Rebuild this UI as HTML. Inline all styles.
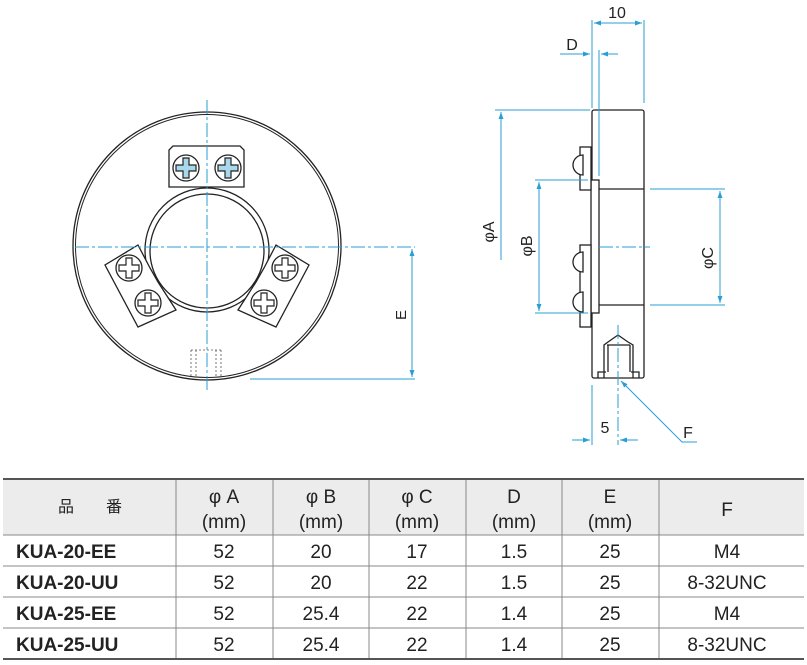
<!DOCTYPE html>
<html><head><meta charset="utf-8"><style>
html,body{margin:0;padding:0;background:#fff;}
svg{display:block;font-family:"Liberation Sans","Noto Sans CJK JP",sans-serif;}
</style></head><body>
<svg width="807" height="665" viewBox="0 0 807 665" xmlns="http://www.w3.org/2000/svg">
<defs>
<marker id="ar" viewBox="0 0 10 10" refX="10" refY="5" markerWidth="7" markerHeight="7" orient="auto-start-reverse"><path d="M0,1.5 L10,5 L0,8.5 z" fill="#2a9fd6"/></marker>
<g id="scr"><circle r="13" fill="#fff" stroke="#222" stroke-width="1.3"/><path d="M-3,-10 h6 v7 h7 v6 h-7 v7 h-6 v-7 h-7 v-6 h7 z" fill="#fff" stroke="#222" stroke-width="1.2"/></g>
<g id="scrb"><circle r="13" fill="#fff" stroke="#222" stroke-width="1.3"/><path d="M-3,-10 h6 v7 h7 v6 h-7 v7 h-6 v-7 h-7 v-6 h7 z" fill="#a8d8ea" stroke="#222" stroke-width="1.2"/></g>
</defs>
<!-- FRONT VIEW -->
<g stroke="#222" fill="none" stroke-width="1.3">
<circle cx="207" cy="246" r="134" fill="#fff"/>
<circle cx="207" cy="246" r="131.5" stroke-width="1"/>
<circle cx="207" cy="250" r="62"/>
<path d="M173,146 H240 L244,150 V187 H169 V150 Z" fill="#fff"/>
<path d="M138,245 L105,265 L138,327 L176,310 L158,282 L150,268 Z" fill="#fff"/>
<path d="M276,245 L309,265 L276,327 L238,310 L256,282 L264,268 Z" fill="#fff"/>
<circle cx="207" cy="251" r="57"/>
</g>
<use href="#scrb" x="186" y="168"/><use href="#scrb" x="228" y="168"/>
<use href="#scr" x="129" y="268"/><use href="#scr" x="148" y="303"/>
<use href="#scr" x="285" y="268"/><use href="#scr" x="264" y="303"/>
<g stroke="#555" stroke-width="0.8" fill="none" stroke-dasharray="2,2">
<path d="M191,350 V378 M196,350 V378 M216,350 V378 M221,350 V378 M191,350 H221"/>
</g>
<g stroke="#2a9fd6" stroke-width="1" fill="none">
<path d="M207,100 V392" stroke-dasharray="14,3,3,3"/>
<path d="M75,247 H415" stroke-dasharray="14,3,3,3"/>
<path d="M250,379 H415"/>
<path d="M412,249 V377" marker-start="url(#ar)" marker-end="url(#ar)"/>
</g>
<text x="0" y="0" font-size="15" fill="#222" transform="translate(406,315) rotate(-90)" text-anchor="middle">E</text>
<!-- SIDE VIEW -->
<g stroke="#222" fill="#fff" stroke-width="1.3">
<rect x="592" y="110" width="52" height="268" rx="2"/>
<rect x="591" y="180" width="8" height="133"/>
<path d="M599,189 H644 M599,305 H644" fill="none"/>
<rect x="580" y="147" width="11" height="43"/>
<rect x="580" y="245" width="11" height="82"/>
<path d="M583,155 A10,10 0 0 0 583,175 Z M583,252 A10,10 0 0 0 583,272 Z M583,292 A10,10 0 0 0 583,312 Z"/>
<path d="M604,378 V345 L608,342 L618,335 L628,342 L633,345 V378 M607,345 H630 M608,345 V372 M630,345 V372 M598,378 V372 H606 M639,378 V372 H631" fill="none"/>
</g>
<g stroke="#2a9fd6" stroke-width="1" fill="none">
<path d="M592,20 V108 M644,20 V103"/>
<path d="M594,23 H642" marker-start="url(#ar)" marker-end="url(#ar)"/>
<path d="M599,50 V176"/>
<path d="M560,54 H590" marker-end="url(#ar)"/>
<path d="M618,54 H601" marker-end="url(#ar)"/>
<path d="M495,110 H590"/>
<path d="M501,112 V260" marker-start="url(#ar)"/>
<path d="M535,180 H588 M535,313 H588"/>
<path d="M539,182 V311" marker-start="url(#ar)" marker-end="url(#ar)"/>
<path d="M650,189 H725 M650,305 H725"/>
<path d="M720,191 V303" marker-start="url(#ar)" marker-end="url(#ar)"/>
<path d="M599,247 H650" stroke-dasharray="14,3,3,3"/>
<path d="M618,325 V445" stroke-dasharray="14,3,3,3"/>
<path d="M592,385 V445"/>
<path d="M572,440 H590" marker-end="url(#ar)"/>
<path d="M638,440 H620" marker-end="url(#ar)"/>
<path d="M697,442 H682 L621,381" marker-end="url(#ar)"/>
</g>
<g fill="#222" font-size="16">
<text x="617" y="18" text-anchor="middle">10</text>
<text x="572" y="50" text-anchor="middle">D</text>
<text transform="translate(494,232) rotate(-90)" text-anchor="middle">φA</text>
<text transform="translate(532,246) rotate(-90)" text-anchor="middle">φB</text>
<text transform="translate(713,258) rotate(-90)" text-anchor="middle">φC</text>
<text x="605" y="433" text-anchor="middle">5</text>
<text x="688" y="438" text-anchor="middle">F</text>
</g>
<!-- TABLE -->
<rect x="3" y="479" width="801" height="56" fill="#ececec"/>
<g stroke="#888" stroke-width="1">
<path d="M3,535 H804 M3,566 H804 M3,597 H804 M3,628 H804" />
<path d="M176,479 V659 M273,479 V659 M369,479 V659 M466,479 V659 M562,479 V659 M659,479 V659"/>
</g>
<path d="M3,479 H804 M3,659 H804" stroke="#555" stroke-width="2"/>
<g fill="#222" font-size="19" text-anchor="middle">
<text x="90" y="512" font-size="16">品　　番</text>
<text x="224" y="503">φ A</text><text x="224" y="528">(mm)</text>
<text x="321" y="503">φ B</text><text x="321" y="528">(mm)</text>
<text x="417" y="503">φ C</text><text x="417" y="528">(mm)</text>
<text x="514" y="503">D</text><text x="514" y="528">(mm)</text>
<text x="610" y="503">E</text><text x="610" y="528">(mm)</text>
<text x="727" y="516">F</text>
</g>
<g fill="#222" font-size="19" font-weight="bold">
<text x="16" y="558">KUA-20-EE</text>
<text x="16" y="589">KUA-20-UU</text>
<text x="16" y="620">KUA-25-EE</text>
<text x="16" y="651">KUA-25-UU</text>
</g>
<g fill="#222" font-size="19" text-anchor="middle">
<text x="224" y="558">52</text><text x="321" y="558">20</text><text x="417" y="558">17</text><text x="514" y="558">1.5</text><text x="610" y="558">25</text><text x="727" y="558">M4</text>
<text x="224" y="589">52</text><text x="321" y="589">20</text><text x="417" y="589">22</text><text x="514" y="589">1.5</text><text x="610" y="589">25</text><text x="727" y="589">8-32UNC</text>
<text x="224" y="620">52</text><text x="321" y="620">25.4</text><text x="417" y="620">22</text><text x="514" y="620">1.4</text><text x="610" y="620">25</text><text x="727" y="620">M4</text>
<text x="224" y="651">52</text><text x="321" y="651">25.4</text><text x="417" y="651">22</text><text x="514" y="651">1.4</text><text x="610" y="651">25</text><text x="727" y="651">8-32UNC</text>
</g>
</svg>
</body></html>
